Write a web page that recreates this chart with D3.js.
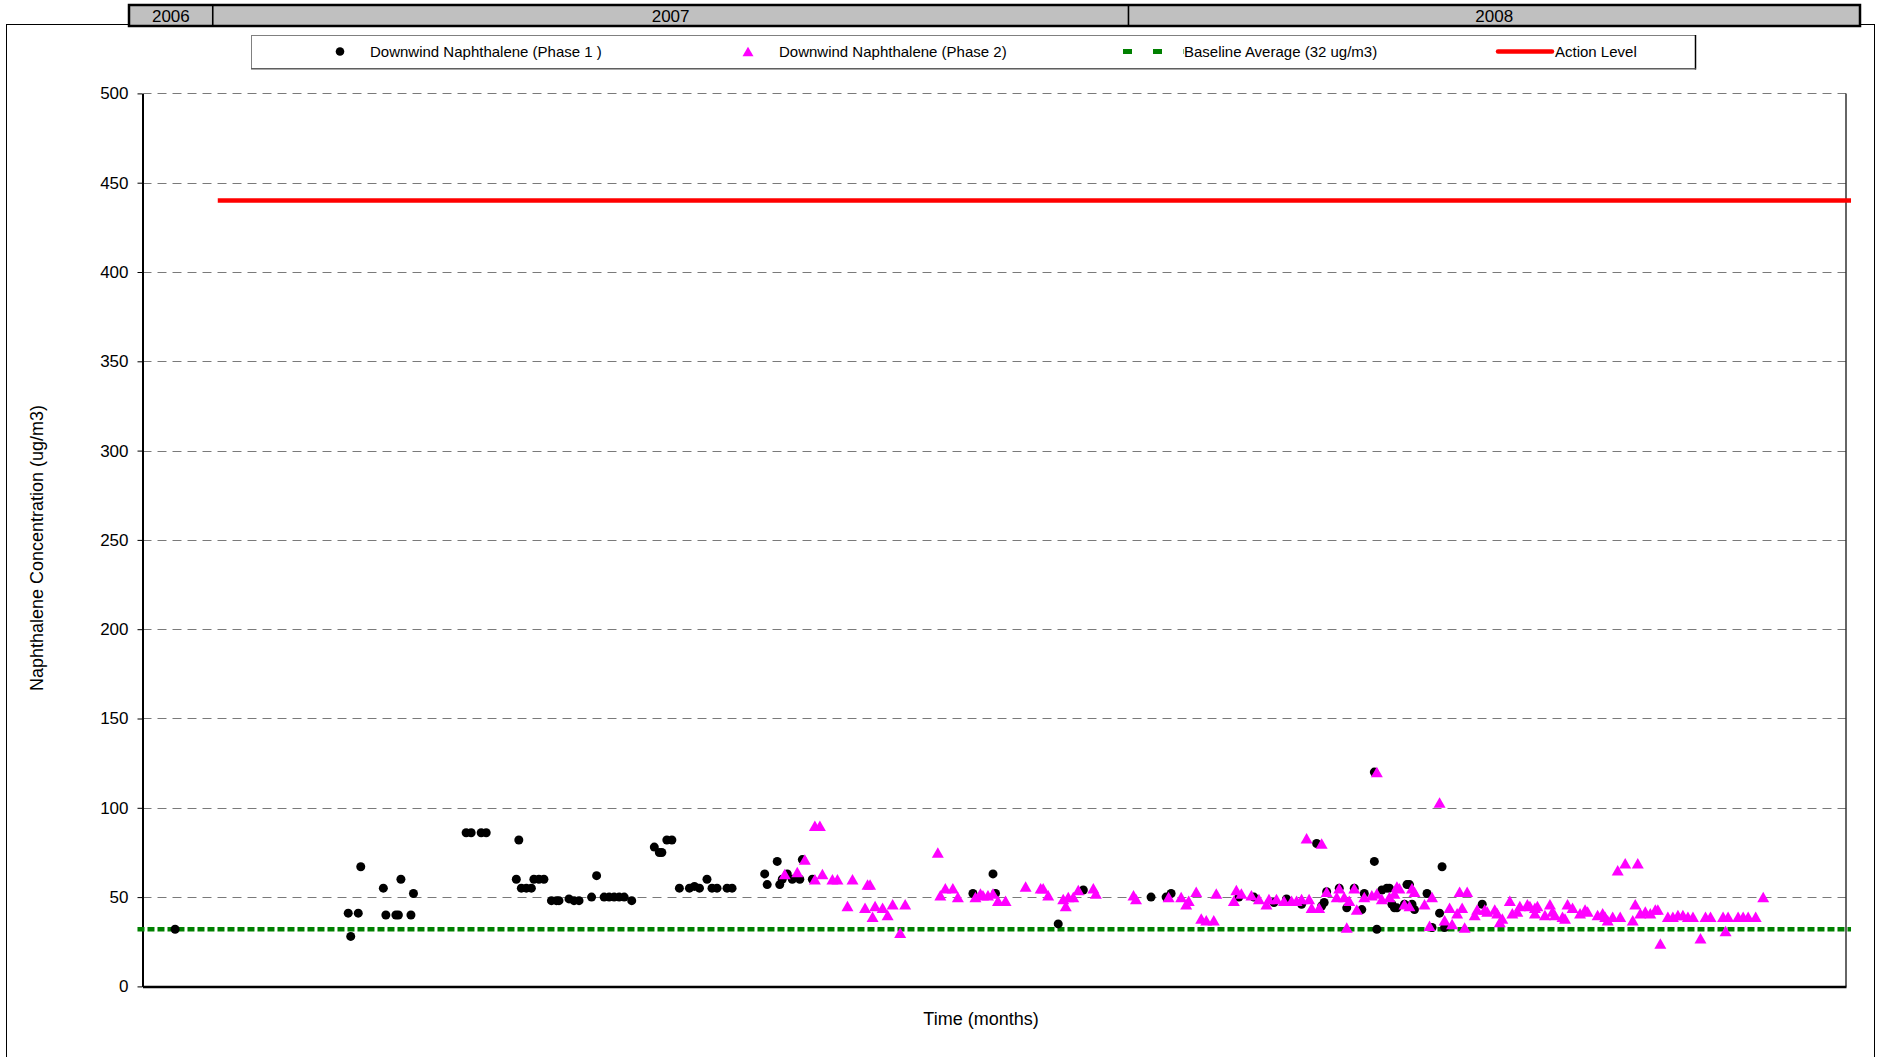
<!DOCTYPE html>
<html>
<head>
<meta charset="utf-8">
<script src="https://cdn.jsdelivr.net/npm/d3@7"></script>
<style>
  html, body { margin: 0; padding: 0; background: #fff; }
  svg { display: block; font-family: "Liberation Sans", Arial, sans-serif; }
</style>
</head>
<body>
<svg id="chart" width="1877" height="1057"></svg>
<script>
// Sampling day = days counted from 1 Jan 2007; concentrations in ug/m3.
const phase1Days = [-15, 54, 55, 58, 59, 68, 69, 73, 74, 75, 79, 80,
  101, 103, 107, 109, 121, 122, 123, 125, 127, 128, 130, 132,
  135, 137, 138, 142, 144, 146, 151, 153, 156, 158, 160, 162, 164, 167,
  176, 178, 179, 181, 183, 186, 190, 192, 194, 197, 199, 201, 205, 207,
  220, 221, 225, 226, 227, 229, 231, 234, 235, 239,
  303, 311, 312, 337, 347, 374, 380, 382,
  409, 415, 423, 428, 434, 440, 442, 443, 444, 449, 452, 455, 458, 459,
  463, 463, 464, 466, 468, 469, 470, 471, 472, 475, 476, 477, 478, 479,
  484, 486, 489, 490, 491, 506];
const phase1Values = [32, 41, 28, 41, 67, 55, 40, 40, 40, 60, 40, 52,
  86, 86, 86, 86, 60, 82, 55, 55, 55, 60, 60, 60,
  48, 48, 48, 49, 48, 48, 50, 62, 50, 50, 50, 50, 50, 48,
  78, 75, 75, 82, 82, 55, 55, 56, 55, 60, 55, 55, 55, 55,
  63, 57, 70, 57, 60, 63, 60, 60, 71, 60,
  52, 63, 52, 35, 54, 50, 50, 52,
  50, 50, 47, 49, 46, 80, 45, 47, 53, 55, 44, 55, 43, 52,
  120, 70, 32, 54, 55, 55, 46, 44, 44, 46, 57, 57, 46, 43,
  52, 33, 41, 67, 33, 46];

const phase2Days = [228, 233, 236, 240, 242, 240, 243, 247, 249, 253, 255,
  260, 261, 262, 263, 264, 267, 269, 271, 274, 276,
  289, 290, 292, 295, 297, 304, 306, 307, 309, 311, 313, 316,
  324, 330, 331, 333, 339, 340, 341, 343, 345, 351, 352, 367, 368,
  381, 386, 388, 389, 392, 394, 396, 399, 400, 407, 408, 410, 414, 417,
  420, 421, 424, 427, 430, 432, 434, 436, 437, 438, 441, 442, 444,
  448, 449, 451, 452, 453, 455, 456, 459, 462, 464, 464, 466, 469, 471,
  472, 473, 475, 477, 478, 479, 483, 485, 486, 489, 491, 493, 494, 496,
  497, 498, 499, 500, 503, 504, 507, 508, 511, 512, 513, 514, 517, 518,
  520, 521, 524, 525, 527, 527, 528, 531, 533, 534, 535, 538, 539, 540,
  542, 545, 547, 548, 552, 554, 555, 556, 558, 560, 561, 563, 566, 567,
  568, 569, 571, 573, 575, 576, 577, 580, 582, 584, 586, 588, 590, 593,
  595, 597, 602, 603, 604, 608, 610, 612, 615, 618];
const phase2Values = [63, 64, 71, 90, 90, 60, 63, 60, 60, 45, 60,
  44, 57, 57, 39, 45, 44, 40, 46, 30, 46,
  75, 51, 55, 55, 50, 50, 52, 51, 51, 52, 48, 48,
  56, 55, 55, 51, 49, 45, 50, 50, 54, 55, 52, 51, 49,
  50, 50, 46, 48, 53, 38, 37, 37, 52, 48, 54, 52, 51, 49,
  46, 49, 49, 48, 48, 48, 49, 83, 49, 44, 44, 80, 53,
  50, 55, 50, 33, 48, 55, 43, 50, 51, 120, 52, 49, 50, 52,
  56, 55, 46, 45, 55, 53, 46, 34, 50, 103, 37, 44, 35, 41,
  53, 44, 33, 53, 40, 43, 43, 42, 43, 41, 36, 38, 48, 41,
  42, 45, 46, 45, 44, 41, 45, 40, 46, 42, 40, 39, 38, 46,
  44, 41, 43, 42, 40, 41, 39, 37, 39, 65, 39, 69, 37, 46,
  69, 41, 42, 41, 43, 43, 24, 39, 39, 40, 40, 39, 39, 27,
  39, 39, 39, 31, 39, 39, 39, 39, 39, 50];

// Reference lines: level and the day span each one is drawn over
const baselineValue = 32;
const baselineSpan = [-30, 653];
const actionLevel = 440;
const actionSpan = [2, 653];

const yTicks = [0, 50, 100, 150, 200, 250, 300, 350, 400, 450, 500];
const yearLabels = ["2006", "2007", "2008"];
const yearStarts = ["2007-01-01", "2008-01-01"];

const legendLabels = [
  "Downwind Naphthalene (Phase 1 )",
  "Downwind Naphthalene (Phase 2)",
  "Baseline Average (32 ug/m3)",
  "Action Level"
];

// ---------- layout ----------
const plot = { left: 142.5, right: 1846, top: 93.4, bottom: 986.4 };
const band = { left: 129, right: 1860, top: 5, bottom: 26 };

const svg = d3.select("#chart");
const origin = Date.UTC(2007, 0, 1);
const toDate = d => new Date(origin + d * 86400000);

const x = d3.scaleUtc()
  .domain([toDate(-28), toDate(651)])
  .range([plot.left, plot.right]);
const y = d3.scaleLinear()
  .domain([0, 500])
  .range([plot.bottom, plot.top]);

// ---------- outer frame ----------
svg.append("rect")
  .attr("x", 6.5).attr("y", 24.5)
  .attr("width", 1868).attr("height", 1100)
  .attr("fill", "none").attr("stroke", "#000").attr("stroke-width", 1);

// ---------- year band ----------
const bandG = svg.append("g");
const yearEdges = [band.left, ...yearStarts.map(s => x(new Date(s + "T00:00:00Z"))), band.right];
bandG.append("rect")
  .attr("x", band.left).attr("y", band.top)
  .attr("width", band.right - band.left).attr("height", band.bottom - band.top)
  .attr("fill", "#c0c0c0").attr("stroke", "#000").attr("stroke-width", 2.5);
yearEdges.slice(1, -1).forEach(px => {
  bandG.append("line")
    .attr("x1", px).attr("x2", px)
    .attr("y1", band.top).attr("y2", band.bottom)
    .attr("stroke", "#000").attr("stroke-width", 1.6);
});
yearLabels.forEach((lab, i) => {
  bandG.append("text")
    .attr("x", (yearEdges[i] + yearEdges[i + 1]) / 2)
    .attr("y", 21.5)
    .attr("text-anchor", "middle")
    .attr("font-size", 17)
    .attr("fill", "#000")
    .text(lab);
});

// ---------- legend ----------
const lg = svg.append("g");
lg.append("rect")
  .attr("x", 251.5).attr("y", 35.5).attr("width", 1444).attr("height", 33)
  .attr("fill", "#fff").attr("stroke", "#808080").attr("stroke-width", 1);
lg.append("line").attr("x1", 1695.5).attr("x2", 1695.5).attr("y1", 35).attr("y2", 69.5)
  .attr("stroke", "#000").attr("stroke-width", 1.5);
lg.append("line").attr("x1", 251).attr("x2", 1696).attr("y1", 68.8).attr("y2", 68.8)
  .attr("stroke", "#555").attr("stroke-width", 1.2);

const legY = 51.5;
const triPath = (w, h) => `M0,${-h / 2}L${w / 2},${h / 2}L${-w / 2},${h / 2}Z`;

lg.append("circle").attr("cx", 340).attr("cy", legY).attr("r", 4.3).attr("fill", "#000");
lg.append("path").attr("d", triPath(11, 9.5)).attr("transform", `translate(748,${legY})`).attr("fill", "#ff00ff");
lg.append("line").attr("x1", 1123).attr("x2", 1183.5).attr("y1", legY).attr("y2", legY)
  .attr("stroke", "#008000").attr("stroke-width", 5).attr("stroke-dasharray", "9 21");
lg.append("line").attr("x1", 1498).attr("x2", 1552).attr("y1", legY).attr("y2", legY)
  .attr("stroke", "#ff0000").attr("stroke-width", 4.5).attr("stroke-linecap", "round");

const legTextX = [370, 779, 1184, 1555];
legendLabels.forEach((t, i) => {
  lg.append("text")
    .attr("x", legTextX[i]).attr("y", legY + 5.3)
    .attr("font-size", 15).attr("fill", "#000")
    .text(t);
});

// ---------- grid ----------
const grid = svg.append("g");
grid.selectAll("line")
  .data(yTicks.filter(v => v > 0))
  .join("line")
  .attr("x1", plot.left).attr("x2", plot.right)
  .attr("y1", d => Math.round(y(d)) + 0.5).attr("y2", d => Math.round(y(d)) + 0.5)
  .attr("stroke", "#7a7a7a").attr("stroke-width", 1)
  .attr("stroke-dasharray", "9 6");

// right border of plot area
svg.append("line")
  .attr("x1", plot.right).attr("x2", plot.right)
  .attr("y1", plot.top).attr("y2", plot.bottom)
  .attr("stroke", "#333").attr("stroke-width", 1.5);

// ---------- axes ----------
const yAxis = svg.append("g")
  .attr("transform", `translate(${plot.left},0)`)
  .call(d3.axisLeft(y).tickValues(yTicks).tickSize(5).tickSizeOuter(0).tickPadding(9));
yAxis.select(".domain").attr("stroke", "#000").attr("stroke-width", 2);
yAxis.selectAll(".tick line").attr("stroke", "#000");
yAxis.selectAll(".tick text")
  .attr("font-size", 17).attr("font-family", "'Liberation Sans', Arial, sans-serif")
  .attr("fill", "#000");

const xAxis = svg.append("g")
  .attr("transform", `translate(0,${plot.bottom})`)
  .call(d3.axisBottom(x).tickValues([]).tickSizeOuter(0));
xAxis.select(".domain").attr("stroke", "#000").attr("stroke-width", 2.5);

// ---------- reference lines ----------
svg.append("line")
  .attr("x1", x(toDate(baselineSpan[0]))).attr("x2", x(toDate(baselineSpan[1])))
  .attr("y1", y(baselineValue)).attr("y2", y(baselineValue))
  .attr("stroke", "#008000").attr("stroke-width", 4.5)
  .attr("stroke-dasharray", "7 3");

svg.append("line")
  .attr("x1", x(toDate(actionSpan[0]))).attr("x2", x(toDate(actionSpan[1])))
  .attr("y1", y(actionLevel)).attr("y2", y(actionLevel))
  .attr("stroke", "#ff0000").attr("stroke-width", 4.5);

// ---------- data markers ----------
const phase1 = phase1Days.map((d, i) => ({ date: toDate(d), value: phase1Values[i] }));
const phase2 = phase2Days.map((d, i) => ({ date: toDate(d), value: phase2Values[i] }));

svg.append("g").selectAll("circle")
  .data(phase1)
  .join("circle")
  .attr("cx", d => x(d.date))
  .attr("cy", d => y(d.value))
  .attr("r", 4.5)
  .attr("fill", "#000");

svg.append("g").selectAll("path")
  .data(phase2)
  .join("path")
  .attr("d", triPath(12, 10.5))
  .attr("transform", d => `translate(${x(d.date)},${y(d.value)})`)
  .attr("fill", "#ff00ff");

// ---------- axis titles ----------
svg.append("text")
  .attr("transform", "translate(37,548) rotate(-90)")
  .attr("text-anchor", "middle").attr("dy", "0.35em")
  .attr("font-size", 18).attr("fill", "#000")
  .text("Naphthalene Concentration (ug/m3)");

svg.append("text")
  .attr("x", 981).attr("y", 1025)
  .attr("text-anchor", "middle")
  .attr("font-size", 18).attr("fill", "#000")
  .text("Time (months)");
</script>
</body>
</html>
